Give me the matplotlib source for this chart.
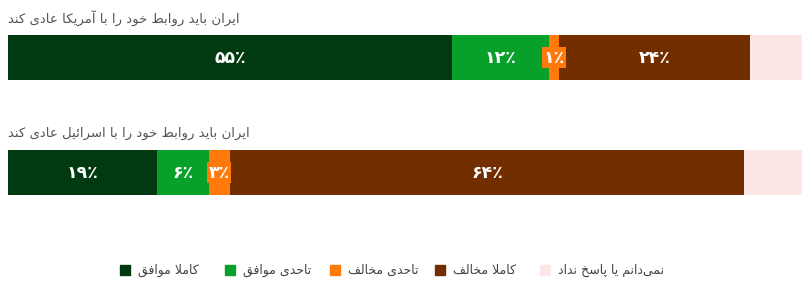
import matplotlib
matplotlib.use("Agg")
import matplotlib.pyplot as plt
from matplotlib.patches import Rectangle

# ---------------- data ----------------
questions = ["ایران باید روابط خود را با آمریکا عادی کند",
             "ایران باید روابط خود را با اسرائیل عادی کند"]
categories = ["کاملا موافق", "تاحدی موافق", "تاحدی مخالف", "کاملا مخالف",
              "نمی\u200cدانم یا پاسخ نداد"]
strongly_agree = [55.3, 18.6]
somewhat_agree = [12.1, 6.4]
somewhat_disagree = [1.2, 2.6]
strongly_disagree = [23.8, 64.1]
dont_know = [7.6, 8.3]
show_label = [True, True, True, True, False]

colors = ["#013a10", "#07a02a", "#ff7a0a", "#732e00", "#fde6e6"]

# ---------------- simple Arabic/Persian shaper ----------------
FORMS = {
    'ا': (0xFE8D, 0xFE8E, None, None),
    'آ': (0xFE81, 0xFE82, None, None),
    'ب': (0xFE8F, 0xFE90, 0xFE91, 0xFE92),
    'پ': (0xFB56, 0xFB57, 0xFB58, 0xFB59),
    'ت': (0xFE95, 0xFE96, 0xFE97, 0xFE98),
    'ح': (0xFEA1, 0xFEA2, 0xFEA3, 0xFEA4),
    'خ': (0xFEA5, 0xFEA6, 0xFEA7, 0xFEA8),
    'د': (0xFEA9, 0xFEAA, None, None),
    'ر': (0xFEAD, 0xFEAE, None, None),
    'س': (0xFEB1, 0xFEB2, 0xFEB3, 0xFEB4),
    'ط': (0xFEC1, 0xFEC2, 0xFEC3, 0xFEC4),
    'ع': (0xFEC9, 0xFECA, 0xFECB, 0xFECC),
    'ف': (0xFED1, 0xFED2, 0xFED3, 0xFED4),
    'ق': (0xFED5, 0xFED6, 0xFED7, 0xFED8),
    'ک': (0xFB8E, 0xFB8F, 0xFB90, 0xFB91),
    'ل': (0xFEDD, 0xFEDE, 0xFEDF, 0xFEE0),
    'م': (0xFEE1, 0xFEE2, 0xFEE3, 0xFEE4),
    'ن': (0xFEE5, 0xFEE6, 0xFEE7, 0xFEE8),
    'و': (0xFEED, 0xFEEE, None, None),
    'ی': (0xFBFC, 0xFBFD, 0xFBFE, 0xFBFF),
    'ئ': (0xFE89, 0xFE8A, 0xFE8B, 0xFE8C),
    'LA': (0xFEFB, 0xFEFC, None, None),
    'LAA': (0xFEF5, 0xFEF6, None, None),
}


def shape(text):
    tokens = []
    i = 0
    while i < len(text):
        c = text[i]
        if c == 'ل' and i + 1 < len(text) and text[i + 1] in ('ا', 'آ'):
            tokens.append('LA' if text[i + 1] == 'ا' else 'LAA')
            i += 2
        else:
            tokens.append(c)
            i += 1
    out = []
    for k, t in enumerate(tokens):
        if t not in FORMS:
            if t != '\u200c':
                out.append(t)
            continue
        prev = tokens[k - 1] if k > 0 else None
        nxt = tokens[k + 1] if k + 1 < len(tokens) else None
        jp = prev in FORMS and FORMS[prev][2] is not None
        jn = FORMS[t][2] is not None and nxt in FORMS
        iso, fin, ini, med = FORMS[t]
        if jp and jn:
            g = med
        elif jp:
            g = fin
        elif jn:
            g = ini
        else:
            g = iso
        out.append(chr(g))
    return ''.join(out)[::-1]


def fa_pct(v):
    digits = str(int(round(v)))
    return digits.translate(str.maketrans('0123456789', '۰۱۲۳۴۵۶۷۸۹')) + '٪'


plt.rcParams['font.family'] = ['DejaVu Sans']

fig = plt.figure(figsize=(8.03, 2.81), dpi=100)
W, H = 803, 281
ax = fig.add_axes([8 / W, 0, 1.0, 1])
ax.set_xlim(0, 100)
ax.set_ylim(1.943, -0.5)
ax.axis('off')

series = [strongly_agree, somewhat_agree, somewhat_disagree, strongly_disagree, dont_know]
rows = list(range(len(questions)))
bar_h = 0.39
left = [0.0] * len(rows)
for s, vals in enumerate(series):
    ax.barh(rows, vals, left=left, height=bar_h, color=colors[s], edgecolor='none')
    if show_label[s]:
        for r, v in enumerate(vals):
            ax.text(left[r] + v / 2, r, fa_pct(v), ha='center', va='center',
                    color='white', fontsize=12.5, fontweight='bold',
                    bbox=dict(boxstyle='square,pad=0.08', fc=colors[s], ec='none'))
    left = [l + v for l, v in zip(left, vals)]

for r, q in enumerate(questions):
    ax.text(0, r - 0.343, shape(q), ha='left', va='center', fontsize=9.5,
            color='#555555')

# legend
for i, (c, lab) in enumerate(zip(colors, categories)):
    x0 = (120 + i * 105) / W
    fig.patches.append(Rectangle((x0, 1 - 275 / H), 10 / W, 10 / H,
                                 transform=fig.transFigure, color=c))
    fig.text(x0 + 18 / W, 1 - 270 / H, shape(lab), ha='left', va='center',
             fontsize=9, color='#444444')

fig.savefig('out.png', dpi=100)
